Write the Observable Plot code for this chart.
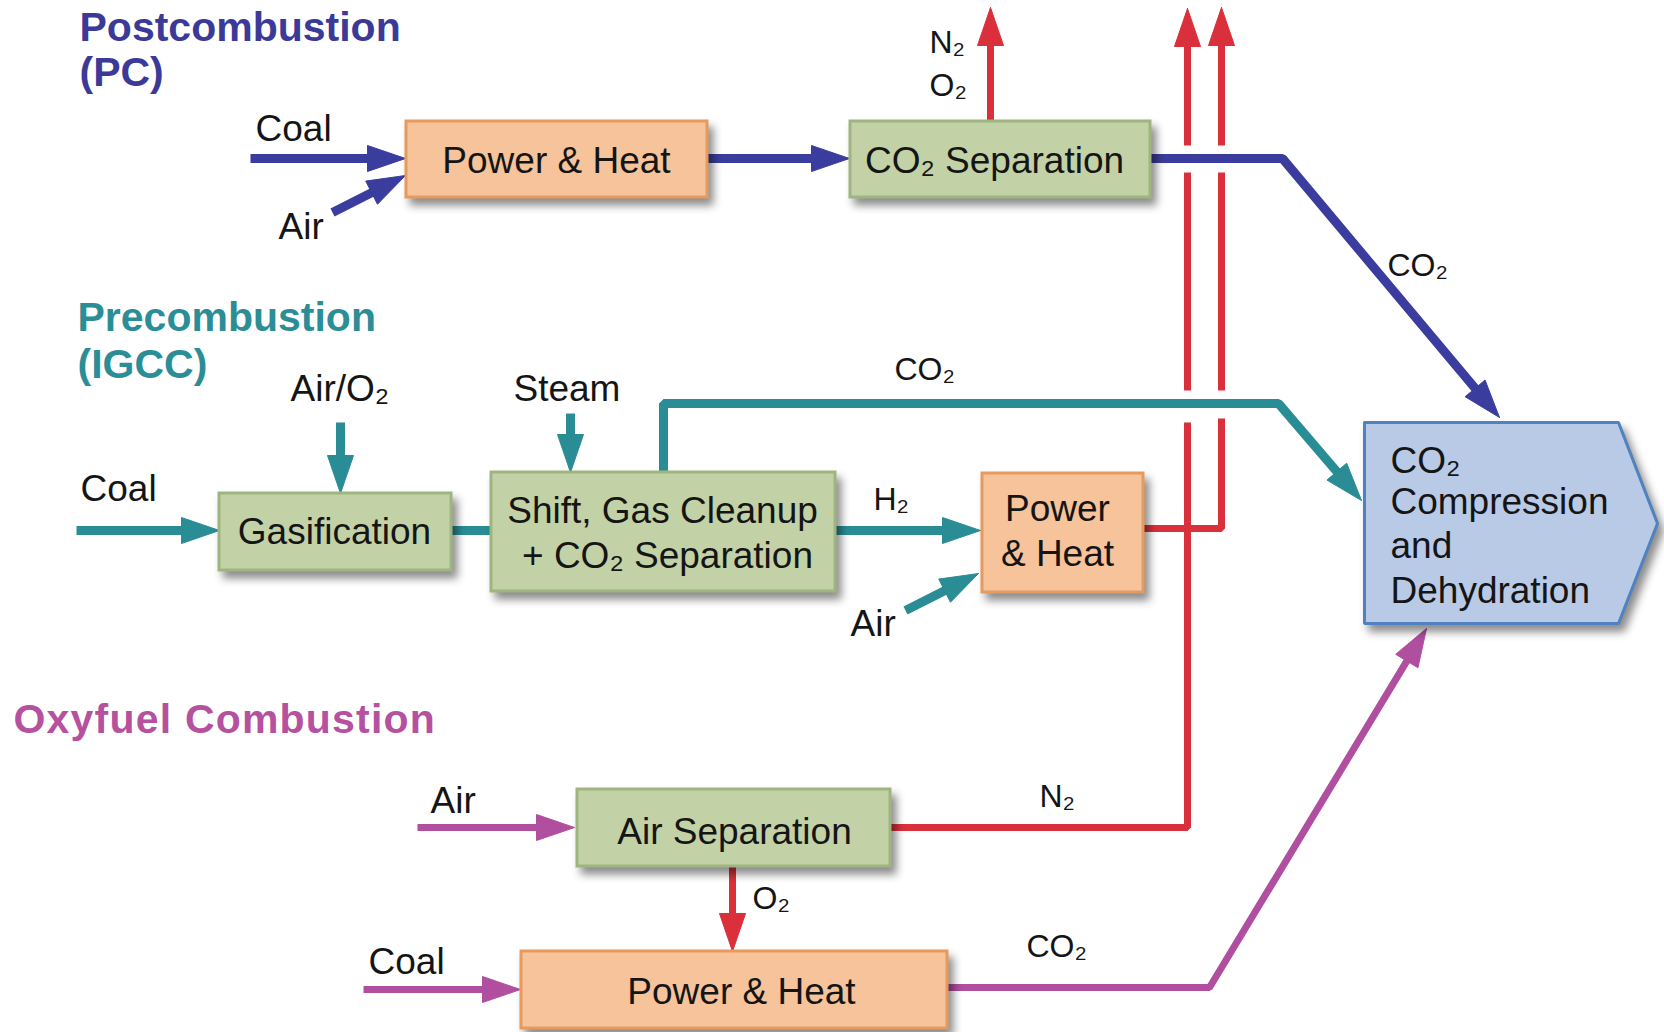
<!DOCTYPE html>
<html><head><meta charset="utf-8">
<script src="https://cdn.jsdelivr.net/npm/d3@7"></script>
<script src="https://cdn.jsdelivr.net/npm/@observablehq/plot@0.6"></script>
<style>
html,body{margin:0;padding:0;background:#fff;}
#chart svg g.shadowed{filter: drop-shadow(5px 7px 4px rgba(0,0,0,0.45));}
#chart svg g.wide{letter-spacing:1.2px;}
</style></head><body><div id="chart"></div><script>
const W = 1664, H = 1032;

// ---- data ----
const palette = {pc:"#3b3d9e", igcc:"#2a8d96", oxy:"#b04e9f", red:"#d9303b"};
const titleColor = {pc:"#3c3a98", igcc:"#2b8e97", oxy:"#b5519f"};
const boxFill = {power:"#f6c39b", sep:"#c3d1a7", co2:"#b9cae6"};
const boxStroke = {power:"#e79a5d", sep:"#9fb57f", co2:"#4f82bf"};

// process boxes (diagram coordinates)
const boxes = [
  {kind:"power", x1:406, x2:707, y1:121, y2:197},
  {kind:"sep",   x1:850, x2:1150, y1:121, y2:197},
  {kind:"sep",   x1:219, x2:451, y1:493, y2:570},
  {kind:"sep",   x1:491, x2:835, y1:472, y2:591},
  {kind:"power", x1:982, x2:1143, y1:473, y2:592},
  {kind:"sep",   x1:577, x2:890, y1:789, y2:866},
  {kind:"power", x1:521, x2:947, y1:951, y2:1028}
];
// CO2 compression unit outline
const co2Unit = [[1364,422],[1618,422],[1657,523],[1618,623],[1364,623],[1364,422]];

// flows: polylines, ending in an arrowhead when head = true
const flows = [
  {c:"pc",   w:9, head:true,  pts:[[250,158],[405,158]]},
  {c:"pc",   w:9, head:true,  pts:[[332,212],[405,175]]},
  {c:"pc",   w:9, head:true,  pts:[[707,158],[849,158]]},
  {c:"pc",   w:9, head:true,  pts:[[1150,158],[1282,158],[1499,417]]},
  {c:"red",  w:7, head:true,  pts:[[990,121],[990,7]]},
  {c:"red",  w:7, head:false, pts:[[890,827],[1187,827],[1187,422]]},
  {c:"red",  w:7, head:false, pts:[[1187,390],[1187,172]]},
  {c:"red",  w:7, head:true,  pts:[[1187,145],[1187,8]]},
  {c:"red",  w:7, head:false, pts:[[1143,528],[1221,528],[1221,418]]},
  {c:"red",  w:7, head:false, pts:[[1221,390],[1221,172]]},
  {c:"red",  w:7, head:true,  pts:[[1221,145],[1221,7]]},
  {c:"red",  w:7, head:true,  pts:[[732,866],[732,951]]},
  {c:"igcc", w:9, head:true,  pts:[[340,422],[340,493]]},
  {c:"igcc", w:9, head:true,  pts:[[570,413],[570,472]]},
  {c:"igcc", w:9, head:true,  pts:[[76,530],[219,530]]},
  {c:"igcc", w:9, head:false, pts:[[451,530],[491,530]]},
  {c:"igcc", w:9, head:true,  pts:[[663,472],[663,403],[1278,403],[1361,500]]},
  {c:"igcc", w:9, head:true,  pts:[[835,530],[980,530]]},
  {c:"igcc", w:9, head:true,  pts:[[905,610],[978,573]]},
  {c:"oxy",  w:7, head:true,  pts:[[417,827],[574,827]]},
  {c:"oxy",  w:7, head:true,  pts:[[363,989],[520,989]]},
  {c:"oxy",  w:7, head:true,  pts:[[947,987],[1209,987],[1426,628]]}
];

// text inside the boxes (x, baseline y)
const boxText = [
  {text:"Power & Heat", x:556, y:172, a:"middle"},
  {text:"CO₂ Separation", x:994, y:172, a:"middle"},
  {text:"Gasification", x:334, y:543, a:"middle"},
  {text:"Shift, Gas Cleanup", x:662, y:522, a:"middle"},
  {text:"+ CO₂ Separation", x:667, y:567, a:"middle"},
  {text:"Power", x:1057, y:520, a:"middle"},
  {text:"& Heat", x:1057, y:565, a:"middle"},
  {text:"Air Separation", x:734, y:843, a:"middle"},
  {text:"Power & Heat", x:741, y:1003, a:"middle"},
  {text:"CO₂", x:1390, y:472, a:"start"},
  {text:"Compression", x:1390, y:513, a:"start"},
  {text:"and", x:1390, y:557, a:"start"},
  {text:"Dehydration", x:1390, y:602, a:"start"}
];
// input labels
const inputLabels = [
  {text:"Coal", x:255, y:140},
  {text:"Air", x:278, y:238},
  {text:"Air/O₂", x:290, y:400},
  {text:"Steam", x:513, y:400},
  {text:"Coal", x:80, y:500},
  {text:"Air", x:850, y:635},
  {text:"Air", x:430, y:812},
  {text:"Coal", x:368, y:973}
];
// gas stream labels
const gasLabels = [
  {text:"N₂", x:929, y:52},
  {text:"O₂", x:929, y:95},
  {text:"CO₂", x:1387, y:275},
  {text:"CO₂", x:894, y:379},
  {text:"H₂", x:873, y:509},
  {text:"N₂", x:1039, y:806},
  {text:"O₂", x:752, y:908},
  {text:"CO₂", x:1026, y:956}
];
// section titles
const titles = [
  {text:"Postcombustion", x:79, y:40, c:"pc"},
  {text:"(PC)", x:79, y:85, c:"pc"},
  {text:"Precombustion", x:77, y:330, c:"igcc"},
  {text:"(IGCC)", x:77, y:377, c:"igcc"},
  {text:"Oxyfuel Combustion", x:13, y:732, c:"oxy"}
];

// ---- geometry helpers ----
const HL = 38, HW = 13;
function shaftOf(f){
  const p = f.pts.map(d => d.slice());
  if (!f.head) return p;
  const n = p.length, [x0,y0] = p[n-2], [x1,y1] = p[n-1];
  const L = Math.hypot(x1-x0, y1-y0), ux = (x1-x0)/L, uy = (y1-y0)/L;
  p[n-1] = [x1 - ux*(HL-6), y1 - uy*(HL-6)];
  return p;
}
function headOf(f){
  const n = f.pts.length, [x0,y0] = f.pts[n-2], [x1,y1] = f.pts[n-1];
  const L = Math.hypot(x1-x0, y1-y0), ux = (x1-x0)/L, uy = (y1-y0)/L;
  const bx = x1 - ux*HL, by = y1 - uy*HL;
  return [[x1,y1],[bx - uy*HW, by + ux*HW],[bx + uy*HW, by - ux*HW],[x1,y1]];
}

const FONT = "'Liberation Sans', Arial, sans-serif";
const marks = [];
for (const f of flows) {
  marks.push(Plot.line(shaftOf(f), {x: d => d[0], y: d => d[1], stroke: palette[f.c], strokeWidth: f.w, strokeLinejoin: "miter", strokeLinecap: "butt"}));
  if (f.head) marks.push(Plot.line(headOf(f), {x: d => d[0], y: d => d[1], fill: palette[f.c], stroke: palette[f.c], strokeWidth: 1}));
}
for (const k of ["power","sep"]) {
  marks.push(Plot.rect(boxes.filter(b => b.kind === k), {x1:"x1", x2:"x2", y1:"y1", y2:"y2", fill: boxFill[k], stroke: boxStroke[k], strokeWidth: 3, ariaDescription: "box"}));
}
marks.push(Plot.line(co2Unit, {x: d => d[0], y: d => d[1], fill: boxFill.co2, stroke: boxStroke.co2, strokeWidth: 3, strokeLinejoin: "miter", ariaDescription: "box"}));
for (const a of ["middle","start"]) {
  marks.push(Plot.text(boxText.filter(t => t.a === a), {x:"x", y:"y", text:"text", textAnchor: a, lineAnchor:"bottom", fontSize: 37, fill:"#151515", fontFamily: FONT}));
}
marks.push(Plot.text(inputLabels, {x:"x", y:"y", text:"text", textAnchor:"start", lineAnchor:"bottom", fontSize: 37, fill:"#151515", fontFamily: FONT}));
marks.push(Plot.text(gasLabels, {x:"x", y:"y", text:"text", textAnchor:"start", lineAnchor:"bottom", fontSize: 32, fill:"#151515", fontFamily: FONT}));
for (const c of ["pc","igcc","oxy"]) {
  marks.push(Plot.text(titles.filter(t => t.c === c), {x:"x", y:"y", text:"text", textAnchor:"start", lineAnchor:"bottom", fontSize: 41, fontWeight: "bold", fill: titleColor[c], fontFamily: FONT, ariaDescription: "title-" + c}));
}

const chart = Plot.plot({
  width: W, height: H, margin: 0,
  x: {domain: [0, W], range: [0, W], axis: null},
  y: {domain: [0, H], range: [0, H], axis: null},
  style: {background: "#fff", overflow: "visible", fontFamily: FONT},
  marks
});
document.getElementById("chart").appendChild(chart);
d3.select(chart).selectAll("g[aria-description='box']").classed("shadowed", true);
d3.select(chart).selectAll("g[aria-description='title-oxy']").classed("wide", true);
</script></body></html>
